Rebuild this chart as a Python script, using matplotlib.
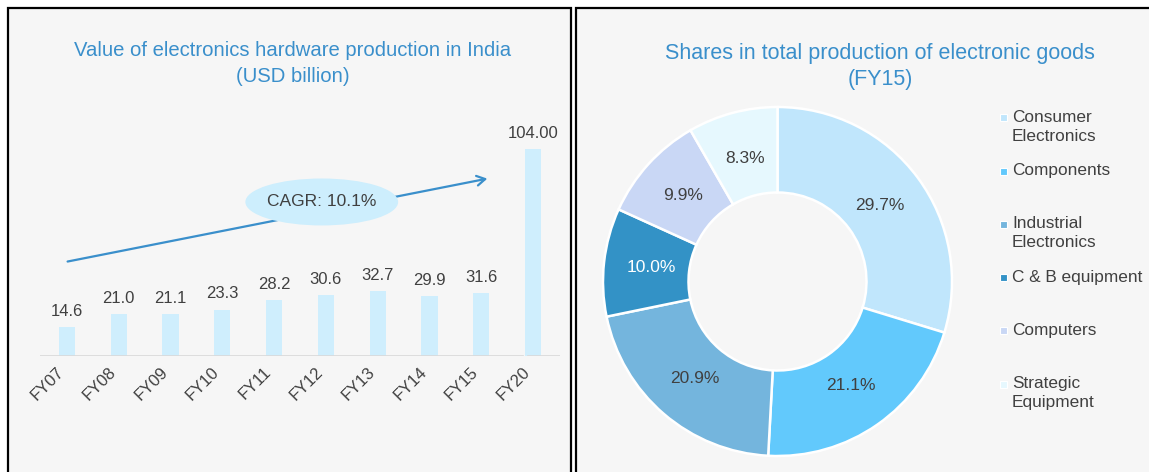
import matplotlib.pyplot as plt
from matplotlib.patches import Rectangle, Ellipse

plt.rcParams['font.family'] = ['Liberation Sans', 'DejaVu Sans']

# bar chart data
years = ["FY07", "FY08", "FY09", "FY10", "FY11", "FY12", "FY13", "FY14", "FY15", "FY20"]
production = [14.6, 21.0, 21.1, 23.3, 28.2, 30.6, 32.7, 29.9, 31.6, 104.0]
value_labels = ["14.6", "21.0", "21.1", "23.3", "28.2", "30.6", "32.7", "29.9", "31.6", "104.00"]

# donut data
segments = ["Consumer\nElectronics", "Components", "Industrial\nElectronics",
            "C & B equipment", "Computers", "Strategic\nEquipment"]
shares = [29.7, 21.1, 20.9, 10.0, 9.9, 8.3]
seg_colors = ["#c0e6fc", "#62c9fc", "#74b5dd", "#3392c6", "#c9d7f5", "#e6f8fe"]

W, H = 1149, 472
TITLE = "#3a8fcb"
TEXT = "#404040"
PANEL = "#f6f6f6"

fig = plt.figure(figsize=(W / 100, H / 100), dpi=100)
fig.patch.set_facecolor("white")


def fx(px):
    return px / W


def fy(py):
    return 1 - py / H


# panel boxes
for x0, x1 in [(8, 571), (576, 1160)]:
    fig.patches.append(Rectangle((fx(x0), fy(480)), fx(x1 - x0), (480 - 8) / H,
                                 transform=fig.transFigure, facecolor=PANEL,
                                 edgecolor="black", linewidth=1.6, zorder=-5))

# ---- left: bar chart ----
ax = fig.add_axes([fx(40), fy(356), fx(520), 256 / H])
ax.set_facecolor("none")
x = list(range(len(years)))
ax.bar(x, production, width=0.31, color="#cfeefd", zorder=2)
for xi, v, lab in zip(x, production, value_labels):
    ax.annotate(lab, (xi, v), xytext=(0, 6), textcoords="offset points",
                ha="center", va="bottom", fontsize=12, color=TEXT)
ax.set_xlim(-0.52, 9.52)
ax.set_ylim(0, 256 / 1.99)
for s in ax.spines.values():
    s.set_visible(False)
ax.set_yticks([])
ax.set_xticks(x)
ax.set_xticklabels(years, rotation=45, ha="right", fontsize=12, color=TEXT)
ax.tick_params(axis="x", length=0, pad=6)
ax.axhline(0, xmin=0, xmax=0.929, color="#d9d9d9", lw=1.2)
ax.axhline(0, xmin=0.938, xmax=1, color="#d9d9d9", lw=1.2)

# CAGR arrow and bubble
ax.annotate("", xy=(8.17, 89.4), xytext=(-0.04, 47.2),
            arrowprops=dict(arrowstyle="->,head_length=0.6,head_width=0.35",
                            color="#3a8fcb", lw=1.6), zorder=3)
ax.add_patch(Ellipse((4.92, 77.4), 2.95, 23.6, facecolor="#cdeefd",
                     edgecolor="none", zorder=4))
ax.text(4.92, 77.4, "CAGR: 10.1%", ha="center", va="center", fontsize=12.5,
        color=TEXT, zorder=5)

fig.text(fx(293), fy(50), "Value of electronics hardware production in India",
         ha="center", va="center", fontsize=14.6, color=TITLE)
fig.text(fx(293), fy(77), "(USD billion)", ha="center", va="center",
         fontsize=14.6, color=TITLE)

# ---- right: donut ----
R = 174.5
pax = fig.add_axes([fx(777.5 - R), fy(281.5 + R), fx(2 * R), 2 * R / H])
wedges, _, autotexts = pax.pie(shares, colors=seg_colors, startangle=90,
                               counterclock=False, autopct="%.1f%%",
                               pctdistance=0.73,
                               wedgeprops=dict(width=0.49, edgecolor="white",
                                               linewidth=1.8),
                               textprops=dict(fontsize=12.5, color=TEXT))
autotexts[3].set_color("white")
pax.set_xlim(-1, 1)
pax.set_ylim(-1, 1)
pax.set_aspect("equal")

fig.text(fx(880), fy(53), "Shares in total production of electronic goods",
         ha="center", va="center", fontsize=15.5, color=TITLE)
fig.text(fx(880), fy(79), "(FY15)", ha="center", va="center",
         fontsize=15.5, color=TITLE)

# legend, drawn by hand for the even spacing of the original
for i, (lab, col) in enumerate(zip(segments, seg_colors)):
    ypx = 118 + i * 53.2
    fig.patches.append(Rectangle((fx(1000), fy(ypx + 3.5)), fx(7), 7 / H,
                                 transform=fig.transFigure, facecolor=col,
                                 edgecolor="white", linewidth=0.8))
    fig.text(fx(1012), fy(ypx - 8), lab, ha="left", va="top", fontsize=12.4,
             color=TEXT, linespacing=1.32)

fig.savefig("out.png", dpi=100, facecolor=fig.get_facecolor())
